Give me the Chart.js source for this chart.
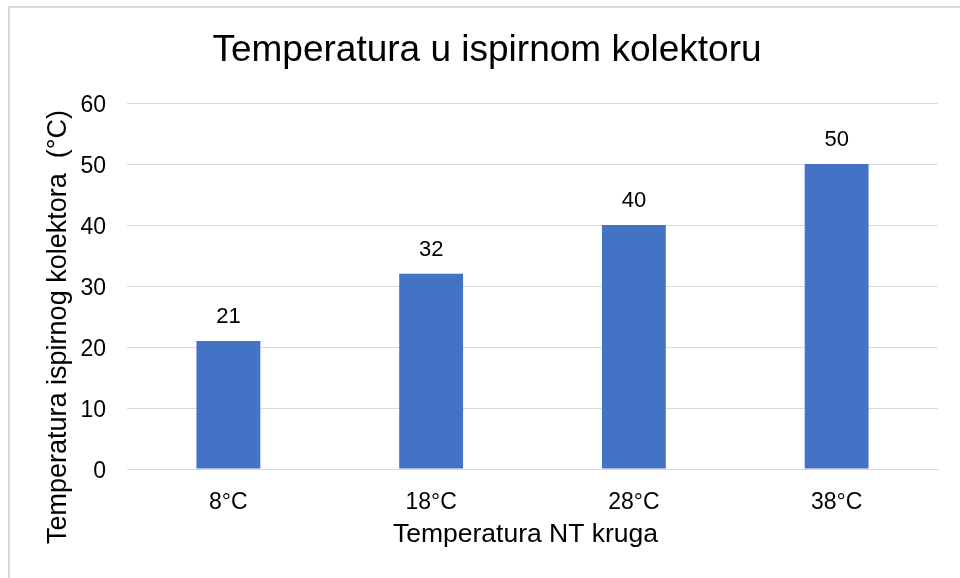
<!DOCTYPE html>
<html>
<head>
<meta charset="utf-8">
<script src="https://cdn.jsdelivr.net/npm/chart.js@4"></script>
<style>
  html, body { margin: 0; padding: 0; background: #fff; overflow: hidden; }
  body { width: 960px; height: 578px; position: relative; }
  #frame {
    position: absolute; left: 8px; top: 6px;
    width: 960px; height: 578px;
    border: 2px solid #d9d9d9; box-sizing: border-box;
    pointer-events: none;
  }
  #chart { position: absolute; left: 8px; top: 6px; }
</style>
</head>
<body>
<canvas id="chart" width="960" height="578"></canvas>
<div id="frame"></div>
<script>
// podaci
const categories = ['8°C', '18°C', '28°C', '38°C'];
const values = [21, 32, 40, 50];
const yTicks = [0, 10, 20, 30, 40, 50, 60];
const xTitle = 'Temperatura NT kruga';
const yTitle = 'Temperatura ispirnog kolektora  (°C)';

const font = '"Liberation Sans", Arial, sans-serif';

// oznake vrijednosti iznad stupaca + naslovi osi (pomaknuti kao u Excelu)
const extraText = {
    id: 'extraText',
    afterDatasetsDraw(chart) {
        const ctx = chart.ctx;
        const meta = chart.getDatasetMeta(0);
        const area = chart.chartArea;
        ctx.save();
        ctx.fillStyle = '#000';
        ctx.textAlign = 'center';
        ctx.textBaseline = 'middle';

        ctx.font = '22px ' + font;
        meta.data.forEach((bar, i) => {
            ctx.fillText(String(values[i]), bar.x, bar.y - 24);
        });

        ctx.font = '26.5px ' + font;
        ctx.fillText(xTitle, (area.left + area.right) / 2 - 7, area.bottom + 66);

        ctx.translate(51, (area.top + area.bottom) / 2 + 41);
        ctx.rotate(-Math.PI / 2);
        ctx.font = '27px ' + font;
        ctx.fillText(yTitle, 0, 0);
        ctx.restore();
    }
};

new Chart(document.getElementById('chart'), {
    type: 'bar',
    data: {
        labels: categories,
        datasets: [{
            data: values,
            backgroundColor: '#4472C4',
            categoryPercentage: 0.315,
            barPercentage: 1
        }]
    },
    options: {
        responsive: false,
        animation: false,
        layout: { padding: { left: 28, right: 30 } },
        plugins: {
            legend: { display: false },
            tooltip: { enabled: false },
            title: {
                display: true,
                text: 'Temperatura u ispirnom kolektoru',
                color: '#000',
                font: { family: font, size: 37, weight: 'normal' },
                padding: { top: 23, bottom: 29.6 }
            }
        },
        scales: {
            x: {
                grid: { display: false, drawTicks: false },
                border: { display: true, color: '#d9d9d9', width: 1 },
                ticks: { color: '#000', font: { family: font, size: 23 }, padding: 20 },
                afterFit: s => { s.height = 115; }
            },
            y: {
                min: 0,
                max: 60,
                afterBuildTicks: s => { s.ticks = yTicks.map(v => ({ value: v })); },
                grid: { color: '#d9d9d9', lineWidth: 1, drawTicks: false },
                border: { display: false },
                ticks: { color: '#000', font: { family: font, size: 23 }, padding: 21, labelOffset: 3 },
                afterFit: s => { s.width = 91; }
            }
        }
    },
    plugins: [extraText]
});
</script>
</body>
</html>
